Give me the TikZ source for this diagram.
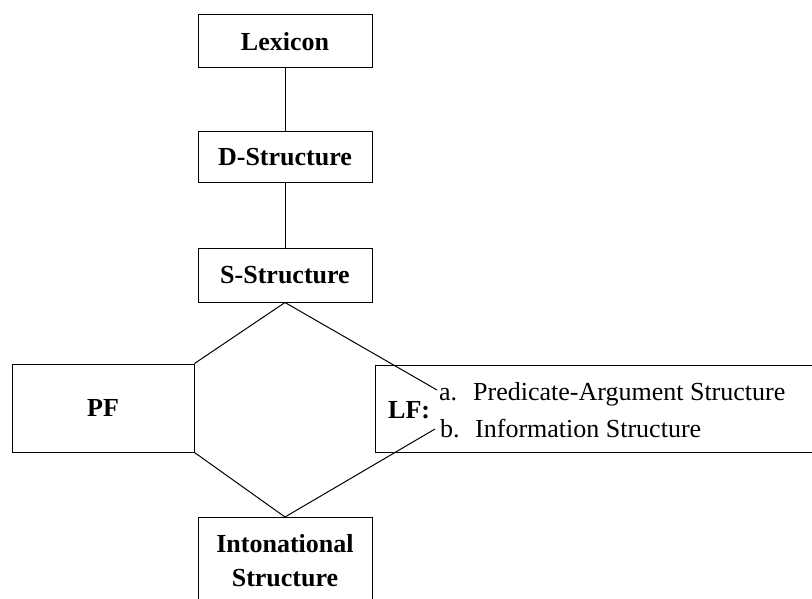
\documentclass[tikz,border=0pt]{standalone}
\usepackage{fontspec}
\setmainfont{Liberation Serif}
\begin{document}
\begin{tikzpicture}[x=1pt,y=-1pt,
  box/.style={draw, line width=1pt, rectangle, inner sep=0pt,
    font=\fontsize{26}{34}\selectfont\bfseries},
  conn/.style={line width=1pt},
  itemtext/.style={font=\fontsize{26}{34}\selectfont, inner sep=0pt, anchor=base west},
  lflabel/.style={font=\fontsize{26}{34}\selectfont\bfseries, inner sep=0pt, anchor=base west}]
\useasboundingbox (0,0) rectangle (812,599);
% boxes
\node[box, minimum width=174, minimum height=53] (lex) at (285,41.5) {Lexicon};
\node[box, minimum width=174, minimum height=51] (ds) at (285,157.5) {D-Structure};
\node[box, minimum width=174, minimum height=54] (ss) at (285,275) {S-Structure};
\node[box, minimum width=182, minimum height=88] (pf) at (103,408) {PF};
\node[box, minimum width=470, minimum height=87] (lf) at (610,408.5) {};
\node[box, text width=174, align=center, inner ysep=17, anchor=north] (into) at (285,517) {Intonational\\Structure};
% LF contents
\node[lflabel] (lft) at (388,418) {LF:};
\node[itemtext] (ta) at (439,400) {\makebox[34pt][l]{a.}Predicate-Argument Structure};
\node[itemtext] (tb) at (440,437) {\makebox[35pt][l]{b.}Information Structure};
\coordinate (ea) at (437,390);
\coordinate (eb) at (435,429);
% connectors
\draw[conn] (lex.south) -- (ds.north);
\draw[conn] (ds.south) -- (ss.north);
\draw[conn] (ss.south) -- (pf.north east);
\draw[conn] (ss.south) -- (ea);
\draw[conn] (pf.south east) -- (into.north);
\draw[conn] (into.north) -- (eb);
\end{tikzpicture}
\end{document}
